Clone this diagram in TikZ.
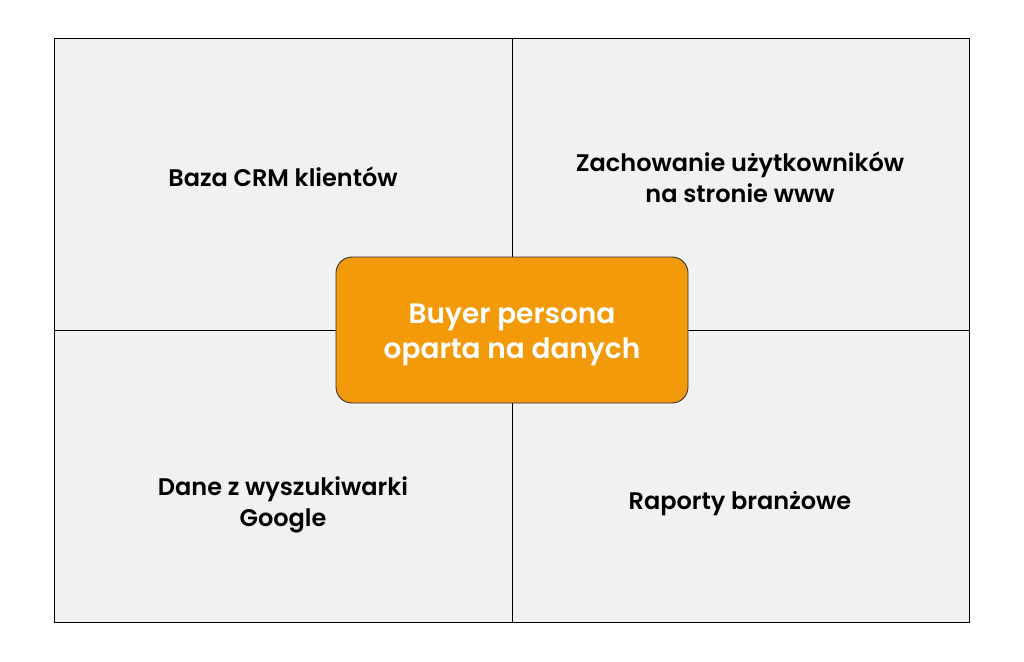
\documentclass[tikz,border=0pt]{standalone}
\usepackage{fontspec}
\setmainfont{Poppins}[BoldFont={* SemiBold}]
\usepackage{tikz}
\usetikzlibrary{positioning}
\definecolor{cellGray}{HTML}{F1F1F1}
\definecolor{personaOrange}{HTML}{F29A0A}
\tikzstyle{cell}=[fill=cellGray, draw=black, line width=0.9pt]
\tikzstyle{source}=[align=center, font=\bfseries\fontsize{24}{31}\selectfont, text=black]

\begin{document}
\begin{tikzpicture}[x=1pt, y=-1pt]
      \useasboundingbox (0,0) rectangle (1024,661);
      \fill[white] (0,0) rectangle (1024,661);

      % ćwiartki
      \coordinate (TL) at (54,38);
      \coordinate (BR) at (969,622);
      \coordinate (M) at (512,330);
      \draw[cell] (TL) rectangle (BR);
      \draw[line width=0.9pt] (TL -| M) -- (BR -| M);
      \draw[line width=0.9pt] (TL |- M) -- (BR |- M);

      % węzeł środkowy
      \node (persona) at (M) [draw=black!80, line width=0.9pt, fill=personaOrange,
        rounded corners=16pt, minimum width=352pt, minimum height=146pt,
        label={[yshift=-5pt, align=center, text=white,
          font=\bfseries\fontsize{28}{35}\selectfont]center:{Buyer persona\\oparta na danych}}]{};

      % opisy źródeł danych
      \node (crm) at (283,177) [source]{Baza CRM klientów};
      \node (www) at (740,177) [source]{Zachowanie użytkowników\\na stronie www};
      \node (google) at (283,505) [source]{Dane z wyszukiwarki\\Google};
      \node (raporty) at (740,504) [source]{Raporty branżowe};
\end{tikzpicture}
\end{document}
